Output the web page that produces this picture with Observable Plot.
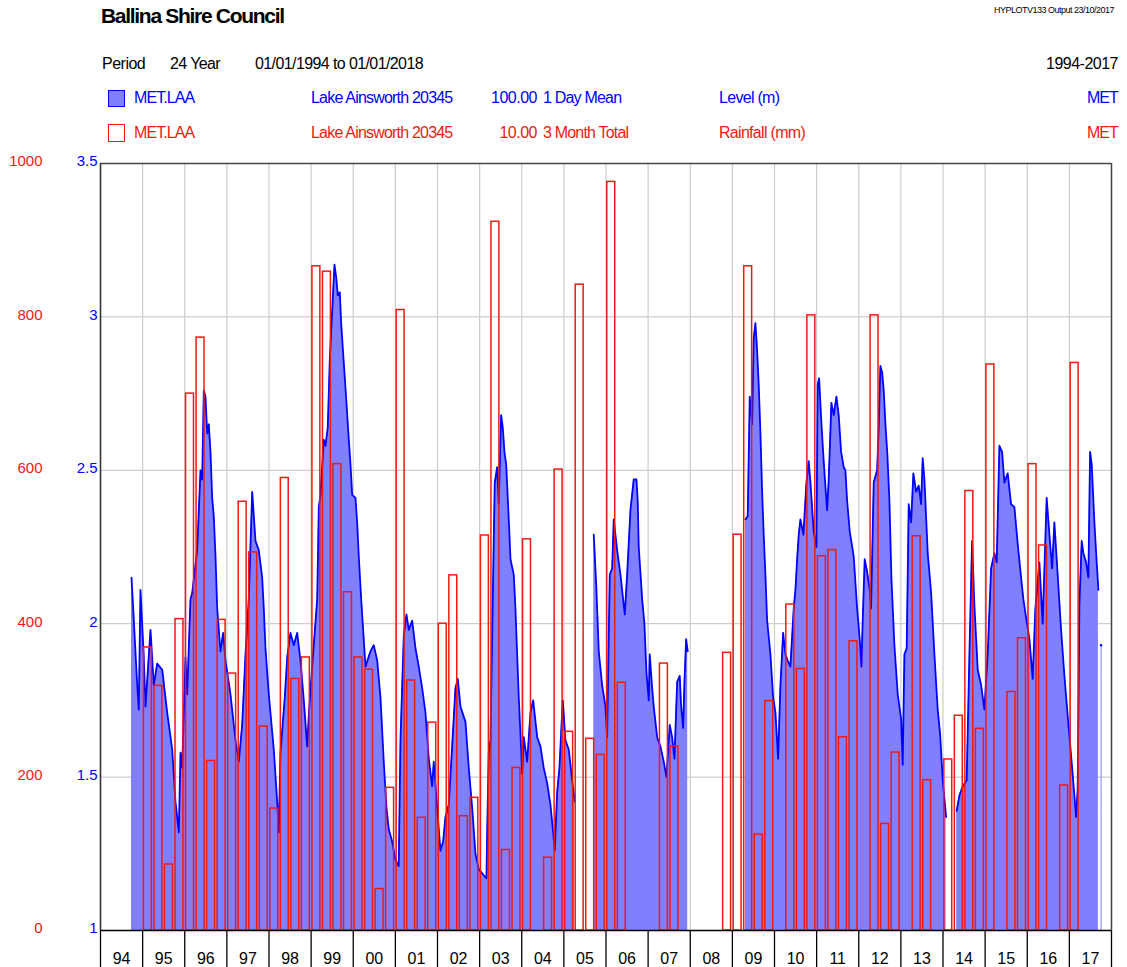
<!DOCTYPE html>
<html>
<head>
<meta charset="utf-8">
<script src="https://cdn.jsdelivr.net/npm/d3@7"></script>
<script src="https://cdn.jsdelivr.net/npm/@observablehq/plot@0.6"></script>
<style>
  html, body { margin: 0; padding: 0; background: #fff; }
  body { width: 1127px; height: 967px; overflow: hidden; position: relative;
         font-family: "Liberation Sans", Arial, sans-serif; }
  .t { position: absolute; white-space: nowrap; line-height: 1; }
  .sw { position: absolute; box-sizing: border-box; }
  #hdr { position: absolute; left: 0; top: 0; width: 1127px; height: 150px; z-index: 2; }
  #chart { position: absolute; left: 0; top: 140px; z-index: 1; }
</style>
</head>
<body>
<div id="hdr"></div>
<div id="chart"></div>
<script>
// ---------------- DATA ----------------
// Lake level (m), 1 day mean — decimal year / metres (null = no record)
const levelYears = [
  1994.736,1994.776,1994.871,1994.909,1994.949,1995.028,1995.068,1995.187,1995.265,1995.346,
  1995.465,1995.583,1995.702,1995.780,1995.859,1995.899,1995.939,1996.018,1996.058,1996.136,
  1996.177,1996.295,1996.374,1996.414,1996.452,1996.492,1996.533,1996.571,1996.611,1996.651,
  1996.689,1996.730,1996.770,1996.848,1996.912,1996.967,1997.086,1997.204,1997.283,1997.363,
  1997.442,1997.520,1997.601,1997.679,1997.757,1997.838,1997.876,1997.916,1997.995,1998.113,
  1998.194,1998.232,1998.272,1998.375,1998.432,1998.510,1998.588,1998.669,1998.747,1998.826,
  1998.906,1998.944,1999.025,1999.144,1999.182,1999.222,1999.300,1999.341,1999.395,1999.443,
  1999.500,1999.554,1999.595,1999.633,1999.680,1999.713,1999.775,1999.839,1999.894,1999.934,
  1999.974,2000.053,2000.093,2000.131,2000.188,2000.290,2000.409,2000.487,2000.568,2000.646,
  2000.724,2000.789,2000.843,2000.924,2001.002,2001.080,2001.121,2001.199,2001.263,2001.318,
  2001.399,2001.477,2001.555,2001.636,2001.714,2001.793,2001.873,2001.911,2001.992,2002.070,
  2002.134,2002.189,2002.267,2002.348,2002.426,2002.481,2002.545,2002.664,2002.742,2002.823,
  2002.901,2002.979,2003.098,2003.162,2003.179,2003.217,2003.257,2003.335,2003.359,2003.416,
  2003.454,2003.511,2003.549,2003.589,2003.630,2003.668,2003.708,2003.732,2003.810,2003.850,
  2003.929,2003.969,2004.010,2004.048,2004.128,2004.207,2004.271,2004.366,2004.444,2004.522,
  2004.603,2004.681,2004.745,2004.783,2004.840,2004.895,2004.973,2005.037,2005.116,2005.196,
  2005.258,
  2005.480,
  2005.709,2005.773,2005.828,2005.908,2005.987,2006.027,2006.089,2006.146,2006.184,2006.264,
  2006.343,2006.445,2006.502,2006.580,2006.658,2006.723,2006.753,2006.777,2006.858,2006.912,
  2006.960,2007.015,2007.038,2007.095,2007.133,2007.214,2007.292,2007.371,2007.435,2007.513,
  2007.570,2007.625,2007.689,2007.750,2007.784,2007.831,2007.862,2007.902,2007.940,
  2008.600,
  2009.310,2009.364,2009.412,2009.469,2009.507,2009.547,2009.587,2009.625,2009.666,2009.706,
  2009.744,2009.784,2009.825,2009.903,2009.967,2010.022,2010.086,2010.141,2010.205,2010.259,
  2010.314,2010.378,2010.456,2010.497,2010.537,2010.575,2010.615,2010.686,2010.758,2010.812,
  2010.853,2010.931,2010.995,2011.026,2011.059,2011.107,2011.154,2011.192,2011.249,2011.287,
  2011.351,2011.406,2011.470,2011.524,2011.581,2011.643,2011.683,2011.724,2011.786,2011.880,
  2011.961,2012.023,2012.063,2012.094,2012.141,2012.198,2012.260,2012.293,2012.355,2012.436,
  2012.474,2012.514,2012.555,2012.593,2012.633,2012.680,2012.728,2012.775,2012.846,2012.925,
  2013.005,2013.043,2013.084,2013.138,2013.186,2013.243,2013.297,2013.362,2013.423,2013.480,
  2013.518,2013.559,2013.637,2013.718,2013.796,2013.874,2013.931,2013.993,2014.074,
  2014.200,
  2014.325,2014.389,2014.468,2014.562,2014.627,2014.691,2014.745,2014.824,2014.904,2014.983,
  2015.061,2015.142,2015.220,2015.275,2015.339,2015.403,2015.457,2015.536,2015.616,2015.695,
  2015.773,2015.854,2015.908,2015.972,2016.051,2016.129,2016.193,2016.288,2016.366,2016.461,
  2016.526,2016.590,2016.644,2016.722,2016.803,2016.882,2016.960,2017.041,2017.119,2017.159,
  2017.197,2017.238,2017.292,2017.333,2017.397,2017.451,2017.492,2017.530,2017.594,2017.648,
  2017.689
];
const levelMetres = [
  2.15,2.05,1.80,1.72,2.11,1.89,1.73,1.98,1.80,1.87,
  1.85,1.71,1.59,1.42,1.32,1.58,1.53,1.89,1.77,2.08,
  2.10,2.24,2.50,2.47,2.76,2.74,2.62,2.65,2.56,2.41,
  2.35,2.22,2.05,1.91,1.97,1.88,1.77,1.62,1.55,1.67,
  1.90,2.08,2.43,2.27,2.24,2.15,2.05,1.92,1.77,1.59,
  1.42,1.32,1.58,1.76,1.89,1.97,1.93,1.97,1.88,1.75,
  1.60,1.70,1.86,2.08,2.38,2.42,2.60,2.58,2.64,2.86,
  3.02,3.17,3.13,3.07,3.08,2.98,2.85,2.72,2.60,2.52,
  2.42,2.41,2.33,2.22,2.08,1.86,1.91,1.93,1.88,1.76,
  1.55,1.40,1.33,1.29,1.23,1.21,1.62,1.96,2.03,1.98,
  2.01,1.92,1.86,1.79,1.71,1.56,1.47,1.55,1.40,1.26,
  1.29,1.37,1.41,1.60,1.79,1.82,1.73,1.68,1.53,1.40,
  1.25,1.20,1.18,1.17,1.32,1.58,1.62,2.27,2.46,2.51,
  2.39,2.68,2.64,2.56,2.52,2.41,2.29,2.21,2.16,2.05,
  1.76,1.64,1.51,1.63,1.55,1.71,1.75,1.63,1.60,1.53,
  1.48,1.41,1.32,1.26,1.45,1.53,1.75,1.62,1.59,1.49,
  1.42,
  null,
  2.29,2.11,1.91,1.80,1.73,1.63,2.16,2.18,2.34,2.24,
  2.16,2.03,2.16,2.37,2.47,2.47,2.40,2.25,2.08,2.00,
  1.84,1.75,1.90,1.79,1.73,1.63,1.60,1.55,1.50,1.67,
  1.63,1.56,1.81,1.83,1.73,1.66,1.81,1.95,1.91,
  null,
  2.34,2.35,2.74,2.65,2.93,2.98,2.89,2.78,2.62,2.43,
  2.29,2.16,2.01,1.90,1.76,1.71,1.56,1.80,1.97,1.90,
  1.88,1.86,2.05,2.11,2.21,2.29,2.34,2.29,2.46,2.53,
  2.46,2.30,2.25,2.78,2.80,2.67,2.56,2.48,2.37,2.47,
  2.72,2.68,2.74,2.68,2.56,2.51,2.50,2.40,2.30,2.22,
  2.05,1.95,1.86,2.01,2.21,2.17,2.11,2.05,2.46,2.50,
  2.64,2.84,2.82,2.76,2.65,2.55,2.40,2.15,1.93,1.77,
  1.69,1.54,1.90,1.92,2.39,2.33,2.49,2.43,2.45,2.39,
  2.54,2.47,2.23,2.10,1.90,1.72,1.64,1.49,1.37,
  null,
  1.39,1.44,1.47,1.49,1.90,2.27,2.06,1.85,1.80,1.72,
  1.90,2.18,2.23,2.20,2.58,2.56,2.46,2.49,2.39,2.38,
  2.26,2.15,2.08,2.02,1.95,1.82,2.05,2.20,2.00,2.41,
  2.29,2.18,2.33,2.16,1.98,1.83,1.70,1.57,1.44,1.37,
  1.46,2.06,2.27,2.23,2.20,2.15,2.56,2.52,2.33,2.20,
  2.11
];
// single isolated reading after the last run
const levelLoneYear = [2017.753];
const levelLoneMetres = [1.93];

// Rainfall (mm), 3 month totals — one value per quarter (null = no record)
const rainYears = [1995,1996,1997,1998,1999,2000,2001,2002,2003,2004,2005,2006,
                   2007,2008,2009,2010,2011,2012,2013,2014,2015,2016,2017];
const rainQ1 = [369,700,335,159,866,356,809,400,515,510,259,976,null,null,516,null,488,null,null,223,738,608,740];
const rainQ2 = [319,773,559,590,859,340,326,463,924,null,842,323,348,null,866,425,496,802,514,280,null,502,null];
const rainQ3 = [ 86,221,493,328,608, 54,147,149,105, 95,250,null,240,null,125,341,252,139,196,573,311,null,null];
const rainQ4 = [406,405,266,356,441,186,271,173,212,601,229,null,null,362,299,802,377,232,null,263,381,189,null];

// Axes
const levelTicks = [1, 1.5, 2, 2.5, 3, 3.5];
const rainTicks = [0, 200, 400, 600, 800, 1000];
const yearStarts = d3.range(1994, 2019);
const yearLabels = ["94","95","96","97","98","99","00","01","02","03","04","05",
                    "06","07","08","09","10","11","12","13","14","15","16","17"];

// ---------------- COLOURS ----------------
const BLUE = "#0000ff";
const FILL = "#8080ff";
const RED = "#f01a10";
const GRID = "#cdcdcd";
const FONT = "'Liberation Sans', Arial, sans-serif";

// rainfall (mm) shown on the level scale: 0 mm -> 1 m, 1000 mm -> 3.5 m
const rainToLevel = r => 1 + r / 400;

// ---------------- TABLES ----------------
const level = levelYears.map((t, i) => ({t, v: levelMetres[i] == null ? NaN : levelMetres[i]}));
const lone = levelLoneYear.map((t, i) => ({t, v: levelLoneMetres[i]}));
const rain = [];
rainYears.forEach((y, i) => {
  [rainQ1[i], rainQ2[i], rainQ3[i], rainQ4[i]].forEach((r, q) => {
    if (r != null) rain.push({x1: y + q / 4, x2: y + (q + 1) / 4, r});
  });
});

// ---------------- HEADER ----------------
const hdr = document.getElementById("hdr");
function put(text, x, baseline, size, color, opts = {}) {
  const d = document.createElement("div");
  d.className = "t";
  d.textContent = text;
  d.style.fontSize = size + "px";
  d.style.color = color;
  d.style.top = (baseline - 0.8465 * size) + "px";
  if (opts.anchor === "end") d.style.right = (1127 - x) + "px";
  else d.style.left = x + "px";
  if (opts.bold) d.style.fontWeight = "bold";
  d.style.letterSpacing = (opts.ls ?? -0.6) + "px";
  hdr.appendChild(d);
}
put("Ballina Shire Council", 101, 23, 21, "#000", {bold: true, ls: -1.3});
put("HYPLOTV133  Output 23/10/2017", 1114, 14, 9, "#000", {anchor: "end", ls: -0.5});
put("Period", 102, 69.5, 16, "#000", {ls: -0.5});
put("24 Year", 170, 69.5, 16, "#000", {ls: -0.6});
put("01/01/1994  to  01/01/2018", 255, 69.5, 16, "#000", {ls: -0.6});
put("1994-2017", 1118, 69.5, 16, "#000", {anchor: "end", ls: -0.5});

put("MET.LAA", 134, 103.5, 16, BLUE, {ls: -0.9});
put("Lake Ainsworth 20345", 311, 103.5, 16, BLUE, {ls: -0.8});
put("100.00", 537, 103.5, 16, BLUE, {anchor: "end", ls: -0.5});
put("1 Day Mean", 543, 103.5, 16, BLUE, {ls: -0.8});
put("Level (m)", 719, 103.5, 16, BLUE, {ls: -0.7});
put("MET", 1118, 103.5, 16, BLUE, {anchor: "end", ls: -0.9});

put("MET.LAA", 134, 138.5, 16, RED, {ls: -0.9});
put("Lake Ainsworth 20345", 311, 138.5, 16, RED, {ls: -0.8});
put("10.00", 537, 138.5, 16, RED, {anchor: "end", ls: -0.5});
put("3 Month Total", 543, 138.5, 16, RED, {ls: -0.8});
put("Rainfall (mm)", 719, 138.5, 16, RED, {ls: -0.7});
put("MET", 1118, 138.5, 16, RED, {anchor: "end", ls: -0.9});

function swatch(x, y, w, h, fill, stroke) {
  const d = document.createElement("div");
  d.className = "sw";
  Object.assign(d.style, {left: x + "px", top: y + "px", width: w + "px", height: h + "px",
    background: fill, border: "1.5px solid " + stroke});
  hdr.appendChild(d);
}
swatch(108, 90, 17, 17, FILL, BLUE);
swatch(108, 124, 17, 18, "#fff", RED);

// ---------------- CHART ----------------
const chart = Plot.plot({
  width: 1127,
  height: 827,
  marginLeft: 100,
  marginRight: 16,
  marginTop: 23,
  marginBottom: 37,
  style: {fontFamily: FONT, background: "transparent", overflow: "visible"},
  x: {type: "linear", domain: [1994, 2018], axis: null, label: null},
  y: {type: "linear", domain: [1, 3.5], axis: null, label: null},
  marks: [
    // grid
    Plot.ruleX(yearStarts.slice(1, -1), {stroke: GRID, strokeWidth: 1.2}),
    Plot.ruleY(levelTicks.slice(1, -1), {stroke: GRID, strokeWidth: 1.2}),
    // lake level
    Plot.areaY(level, {x: "t", y1: 1, y2: "v", fill: FILL, curve: "linear"}),
    Plot.ruleX(lone, {x: "t", y1: 1, y2: "v", stroke: FILL, strokeWidth: 1}),
    Plot.lineY(level, {x: "t", y: "v", stroke: BLUE, strokeWidth: 1.8, curve: "linear"}),
    Plot.dot(lone, {x: "t", y: "v", r: 1.2, fill: BLUE, stroke: null}),
    // rainfall bars
    Plot.rect(rain, {x1: "x1", x2: "x2", y1: rainToLevel(0), y2: d => rainToLevel(d.r),
      fill: "none", stroke: RED, strokeWidth: 1.5, insetLeft: 1.3, insetRight: 1.3}),
    // frame
    Plot.ruleY([3.5], {stroke: "#444", strokeWidth: 1.5}),
    Plot.ruleX([2018], {stroke: "#444", strokeWidth: 1.5}),
    Plot.ruleX([1994], {stroke: "#333", strokeWidth: 1.6}),
    Plot.ruleY([1], {stroke: "#000", strokeWidth: 1.5}),
    // axes
    Plot.axisY({ticks: levelTicks, tickSize: 0, tickPadding: 3, anchor: "left", label: null,
      tickFormat: d => String(d), color: BLUE, fontSize: 15, dy: -2}),
    Plot.axisY({ticks: rainTicks.map(rainToLevel), tickSize: 0, tickPadding: 58, anchor: "left", label: null,
      tickFormat: d => String(Math.round((d - 1) * 400)), color: RED, fontSize: 15, dy: -2}),
    Plot.axisX({ticks: yearStarts, tickSize: 37, tickFormat: () => "", color: "#000", label: null,
      strokeWidth: 1.3, anchor: "bottom"}),
    Plot.axisX({ticks: yearStarts.slice(0, -1).map(y => y + 0.5), tickSize: 0, tickPadding: 22, label: null,
      tickFormat: d => yearLabels[Math.floor(d) - 1994], color: "#000", fontSize: 16, anchor: "bottom"})
  ]
});
document.getElementById("chart").appendChild(chart);
</script>
</body>
</html>
